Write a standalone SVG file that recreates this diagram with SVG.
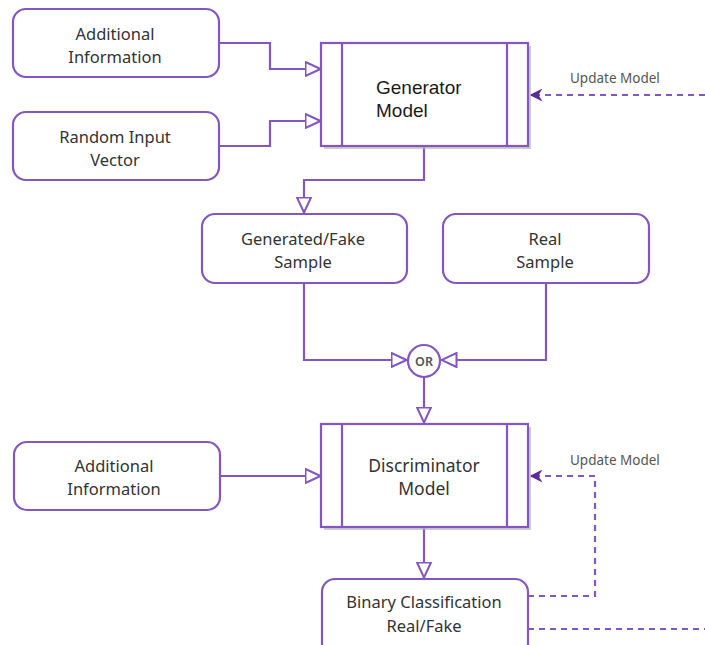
<svg xmlns="http://www.w3.org/2000/svg" width="705" height="645" viewBox="0 0 705 645">
  <style>
    .box { fill: #ffffff; stroke: #8356c0; stroke-width: 2.2; }
    .conn { fill: none; stroke: #8356c0; stroke-width: 2.2; }
    .dash { fill: none; stroke: #8356c0; stroke-width: 2.2; stroke-dasharray: 6 5; }
    .lbl { font-family: "Noto Sans", "Open Sans", sans-serif; font-size: 16.5px; fill: #333333; text-anchor: middle; }
    .big { font-size: 17.5px; }
    .arial { font-family: "Liberation Sans", Arial, sans-serif; font-size: 19px; fill: #1a1a1a; }
    .upd { font-family: "Noto Sans", "Open Sans", sans-serif; font-size: 13.5px; fill: #555555; }
    .shadow { fill: #b8b8b8; opacity: 0.7; }
  </style>
  <defs>
    <marker id="open" viewBox="0 0 17 16" refX="16.5" refY="8" markerWidth="17" markerHeight="16" markerUnits="userSpaceOnUse" orient="auto">
      <path d="M1,1 L16,8 L1,15 Z" fill="#ffffff" stroke="#8356c0" stroke-width="2"/>
    </marker>
    <marker id="filled" viewBox="0 0 13 13" refX="12.5" refY="6.5" markerWidth="13" markerHeight="13" markerUnits="userSpaceOnUse" orient="auto">
      <path d="M0,0 L13,6.5 L0,13 L4,6.5 Z" fill="#5a2d98"/>
    </marker>
  </defs>

  <g id="connectors">
    <path class="conn" d="M219,43 H270 V69 H321" marker-end="url(#open)"/>
    <path class="conn" d="M219,146 H270 V121 H321" marker-end="url(#open)"/>
    <path class="conn" d="M424,146 V180 H304 V213" marker-end="url(#open)"/>
    <path class="conn" d="M304,283 V360 H407" marker-end="url(#open)"/>
    <path class="conn" d="M546,283 V360 H441" marker-end="url(#open)"/>
    <path class="conn" d="M424,377 V423" marker-end="url(#open)"/>
    <path class="conn" d="M219,476 H321" marker-end="url(#open)"/>
    <path class="conn" d="M424,527 V578" marker-end="url(#open)"/>
    <path class="dash" d="M705,95 H530" marker-end="url(#filled)"/>
    <path class="dash" d="M528,596 H595 V476 H530" marker-end="url(#filled)"/>
    <path class="dash" d="M528,629 H705"/>
    <text class="upd" x="570" y="83">Update Model</text>
    <text class="upd" x="570" y="465">Update Model</text>
  </g>

  <g id="additional-info-top">
    <rect class="box" x="13" y="9" width="206" height="68" rx="13"/>
    <text class="lbl" x="115" y="40">Additional</text>
    <text class="lbl" x="115" y="63">Information</text>
  </g>

  <g id="random-input">
    <rect class="box" x="13" y="112" width="206" height="68" rx="13"/>
    <text class="lbl" x="115" y="143">Random Input</text>
    <text class="lbl" x="115" y="166">Vector</text>
  </g>

  <g id="generator">
    <rect class="shadow" x="324" y="46" width="207" height="103"/>
    <rect class="box" x="321" y="43" width="207" height="103"/>
    <line class="conn" x1="342" y1="43" x2="342" y2="146"/>
    <line class="conn" x1="507" y1="43" x2="507" y2="146"/>
    <text class="arial" x="376" y="94">Generator</text>
    <text class="arial" x="376" y="117">Model</text>
  </g>

  <g id="generated-sample">
    <rect class="box" x="202" y="214" width="205" height="69" rx="13"/>
    <text class="lbl" x="303" y="245">Generated/Fake</text>
    <text class="lbl" x="303" y="268">Sample</text>
  </g>

  <g id="real-sample">
    <rect class="box" x="443" y="214" width="206" height="69" rx="13"/>
    <text class="lbl" x="545" y="245">Real</text>
    <text class="lbl" x="545" y="268">Sample</text>
  </g>

  <g id="or">
    <circle class="box" cx="424" cy="361" r="16"/>
    <text x="424" y="366" text-anchor="middle" font-family="Noto Sans, sans-serif" font-size="12.5" font-weight="600" fill="#555555">OR</text>
  </g>

  <g id="additional-info-bottom">
    <rect class="box" x="14" y="442" width="206" height="68" rx="13"/>
    <text class="lbl" x="114" y="472">Additional</text>
    <text class="lbl" x="114" y="495">Information</text>
  </g>

  <g id="discriminator">
    <rect class="shadow" x="324" y="427" width="207" height="103"/>
    <rect class="box" x="321" y="424" width="207" height="103"/>
    <line class="conn" x1="342" y1="424" x2="342" y2="527"/>
    <line class="conn" x1="507" y1="424" x2="507" y2="527"/>
    <text class="lbl big" x="424" y="472">Discriminator</text>
    <text class="lbl big" x="424" y="495">Model</text>
  </g>

  <g id="binary-classification">
    <rect class="box" x="322" y="579" width="206" height="80" rx="13"/>
    <text class="lbl" x="424" y="608">Binary Classification</text>
    <text class="lbl" x="424" y="632">Real/Fake</text>
  </g>
</svg>
